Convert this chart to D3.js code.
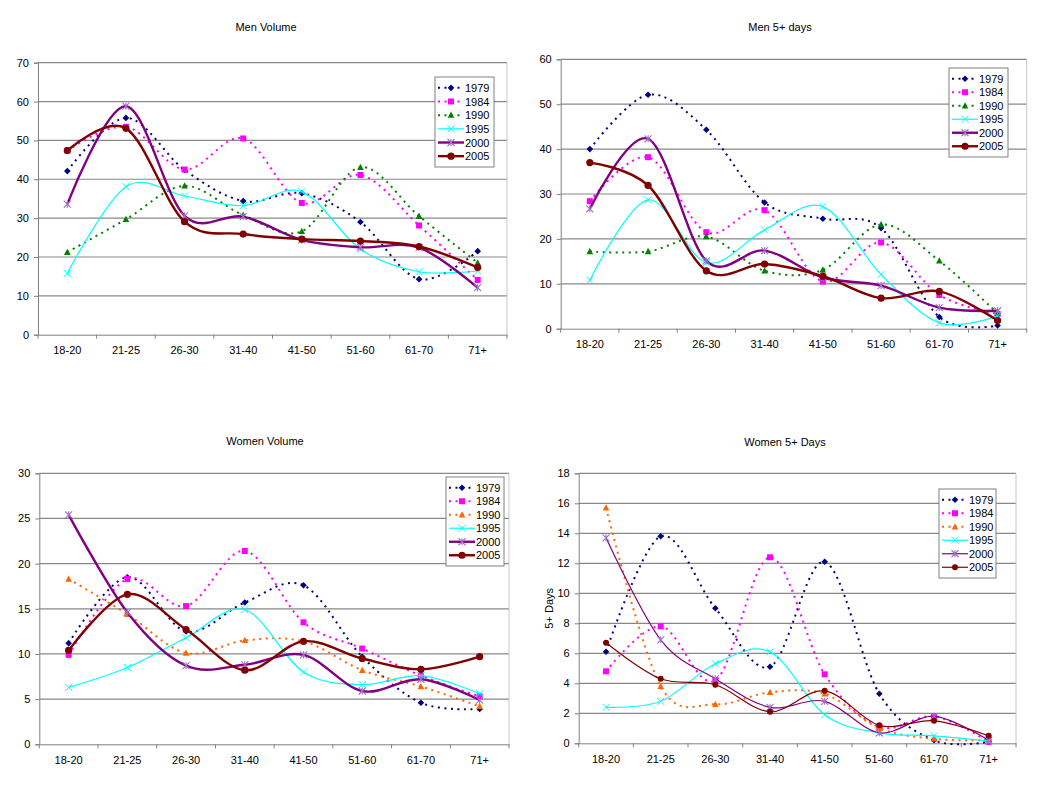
<!DOCTYPE html>
<html>
<head>
<meta charset="utf-8">
<script src="https://cdn.jsdelivr.net/npm/d3@7"></script>
<style>
  html, body { margin: 0; padding: 0; background: #fff; }
  svg { display: block; font-family: "Liberation Sans", Arial, sans-serif; }
</style>
</head>
<body>
<svg id="chart" width="1050" height="794"></svg>
<script>
// ---------- data ----------
const categories = ["18-20", "21-25", "26-30", "31-40", "41-50", "51-60", "61-70", "71+"];
const years = ["1979", "1984", "1990", "1995", "2000", "2005"];

const menVolume1979 = [42.1, 55.8, 42.4, 34.4, 36.4, 29.0, 14.3, 21.5];
const menVolume1984 = [47.4, 53.5, 42.5, 50.5, 33.9, 41.1, 28.1, 14.1];
const menVolume1990 = [21.2, 29.7, 38.3, 30.8, 26.6, 43.1, 30.5, 18.5];
const menVolume1995 = [15.8, 38.1, 35.7, 33.2, 36.8, 22.0, 16.2, 16.4];
const menVolume2000 = [33.6, 58.8, 30.6, 30.4, 24.4, 22.5, 22.4, 12.1];
const menVolume2005 = [47.4, 53.1, 29.1, 25.9, 24.6, 24.1, 22.7, 17.3];

const men5Days1979 = [40.0, 52.1, 44.3, 28.1, 24.5, 22.4, 2.6, 0.7];
const men5Days1984 = [28.4, 38.2, 21.5, 26.4, 10.5, 19.2, 7.5, 3.3];
const men5Days1990 = [17.2, 17.2, 20.5, 12.9, 13.1, 23.2, 15.1, 3.4];
const men5Days1995 = [10.8, 28.7, 14.7, 22.0, 27.2, 12.1, 1.3, 2.8];
const men5Days2000 = [26.7, 42.3, 15.1, 17.4, 11.4, 9.6, 4.7, 4.0];
const men5Days2005 = [37.0, 31.9, 12.9, 14.4, 11.7, 6.8, 8.3, 1.8];

const womenVolume1979 = [11.2, 18.5, 12.5, 15.7, 17.6, 9.7, 4.6, 3.9];
const womenVolume1984 = [9.9, 18.3, 15.3, 21.4, 13.5, 10.6, 7.6, 5.3];
const womenVolume1990 = [18.3, 14.4, 10.1, 11.5, 11.4, 8.2, 6.4, 4.2];
const womenVolume1995 = [6.3, 8.5, 11.8, 14.9, 8.0, 6.6, 7.6, 5.6];
const womenVolume2000 = [25.4, 14.6, 8.7, 8.8, 9.9, 5.9, 7.2, 4.9];
const womenVolume2005 = [10.4, 16.6, 12.7, 8.2, 11.4, 9.5, 8.3, 9.7];

const women5Days1979 = [6.1, 13.8, 9.0, 5.1, 12.1, 3.3, 0.2, 0.1];
const women5Days1984 = [4.8, 7.8, 4.2, 12.4, 4.6, 1.1, 1.8, 0.1];
const women5Days1990 = [15.7, 3.8, 2.6, 3.4, 3.3, 1.0, 0.3, 0.2];
const women5Days1995 = [2.4, 2.8, 5.3, 6.1, 1.9, 0.7, 0.5, 0.15];
const women5Days2000 = [13.7, 6.9, 4.3, 2.4, 2.8, 0.7, 1.8, 0.2];
const women5Days2005 = [6.7, 4.3, 3.9, 2.1, 3.5, 1.2, 1.5, 0.5];

const menVolumeTicks = [0, 10, 20, 30, 40, 50, 60, 70];
const men5DaysTicks = [0, 10, 20, 30, 40, 50, 60];
const womenVolumeTicks = [0, 5, 10, 15, 20, 25, 30];
const women5DaysTicks = [0, 2, 4, 6, 8, 10, 12, 14, 16, 18];

// ---------- drawing ----------
const svg = d3.select("#chart");
const GRID = "#888888";
const AXIS = "#808080";

function styleFor(year, thinSolid, orange1990) {
  switch (year) {
    case "1979": return {color: "#000080", width: 2, dash: "2,4.5", marker: "diamond", size: 3.3};
    case "1984": return {color: "#FF00FF", width: 2, dash: "2,4.5", marker: "square", size: 6};
    case "1990": return {color: orange1990 ? "#FF6600" : "#008000", width: 2, dash: "2,4.5", marker: "triangle", size: 6};
    case "1995": return {color: "#00FFFF", width: 1.2, dash: null, marker: "x", size: 3.5};
    case "2000": return {color: "#800080", width: thinSolid ? 1.2 : 2.4, dash: null, marker: "star", size: 3.5};
    case "2005": return {color: "#800000", width: thinSolid ? 1.2 : 2.4, dash: null, marker: "circle", size: thinSolid ? 3 : 3.6};
  }
}

function drawMarker(g, st, x, y) {
  const s = st.size;
  if (st.marker === "diamond") {
    g.append("path").attr("d", `M${x},${y - s} L${x + s},${y} L${x},${y + s} L${x - s},${y} Z`).attr("fill", st.color);
  } else if (st.marker === "square") {
    g.append("rect").attr("x", x - s / 2).attr("y", y - s / 2).attr("width", s).attr("height", s).attr("fill", st.color);
  } else if (st.marker === "triangle") {
    g.append("path").attr("d", `M${x},${y - s * 0.6} L${x + s * 0.55},${y + s * 0.45} L${x - s * 0.55},${y + s * 0.45} Z`).attr("fill", st.color);
  } else if (st.marker === "x") {
    g.append("path").attr("d", `M${x - s},${y - s} L${x + s},${y + s} M${x - s},${y + s} L${x + s},${y - s}`)
      .attr("stroke", st.color).attr("stroke-width", 1).attr("fill", "none");
  } else if (st.marker === "star") {
    g.append("path").attr("d", `M${x - s},${y - s} L${x + s},${y + s} M${x - s},${y + s} L${x + s},${y - s} M${x},${y - s} L${x},${y + s}`)
      .attr("stroke", "#A070C8").attr("stroke-width", 1.1).attr("fill", "none");
  } else if (st.marker === "circle") {
    g.append("circle").attr("cx", x).attr("cy", y).attr("r", s).attr("fill", st.color);
  }
}

function drawChart(cfg) {
  const g = svg.append("g");
  const x = d3.scaleBand().domain(categories).range([cfg.left, cfg.right]);
  const y = d3.scaleLinear().domain([0, d3.max(cfg.ticks)]).range([cfg.bottom, cfg.top]);

  // title
  g.append("text").attr("x", cfg.titleX).attr("y", cfg.titleY).attr("text-anchor", "middle")
    .attr("font-size", 11).attr("fill", "#000").text(cfg.title);

  // gridlines
  g.selectAll(".grid").data(cfg.ticks.filter(t => t > 0)).enter().append("line")
    .attr("x1", cfg.left).attr("x2", cfg.right)
    .attr("y1", d => y(d)).attr("y2", d => y(d))
    .attr("stroke", GRID).attr("stroke-width", 1.2);
  // right border
  g.append("line").attr("x1", cfg.right).attr("x2", cfg.right).attr("y1", cfg.top).attr("y2", cfg.bottom)
    .attr("stroke", "#c8c8c8").attr("stroke-width", 1);

  // y axis
  const yAxis = d3.axisLeft(y).tickValues(cfg.ticks).tickSize(4).tickPadding(5).tickFormat(d3.format("d"));
  const ya = g.append("g").attr("transform", `translate(${cfg.left},0)`).call(yAxis);
  ya.select(".domain").attr("stroke", AXIS);
  ya.selectAll(".tick line").attr("stroke", AXIS);
  ya.selectAll("text").attr("font-size", 11).attr("fill", "#000").attr("font-family", "Liberation Sans, Arial, sans-serif");

  // x axis
  const xa = g.append("g").attr("transform", `translate(0,${cfg.bottom})`)
    .call(d3.axisBottom(x).tickSize(0).tickPadding(12));
  xa.select(".domain").attr("stroke", AXIS);
  xa.selectAll("text").attr("font-size", 11).attr("fill", "#000").attr("font-family", "Liberation Sans, Arial, sans-serif");
  // band boundary ticks
  const bounds = categories.map(c => x(c)).concat([cfg.right]);
  g.selectAll(".xb").data(bounds).enter().append("line")
    .attr("x1", d => d).attr("x2", d => d).attr("y1", cfg.bottom).attr("y2", cfg.bottom + 4)
    .attr("stroke", AXIS);

  if (cfg.yTitle) {
    g.append("text").attr("transform", `translate(${cfg.yTitleX},${(cfg.top + cfg.bottom) / 2}) rotate(-90)`)
      .attr("text-anchor", "middle").attr("font-size", 11).text(cfg.yTitle);
  }

  // series
  const line = d3.line().x((d, i) => x(categories[i]) + x.bandwidth() / 2).y(d => y(d))
    .curve(d3.curveCardinal.tension(0));
  cfg.series.forEach((vals, si) => {
    const st = styleFor(years[si], cfg.thinSolid, cfg.orange1990);
    const sg = g.append("g");
    sg.append("path").datum(vals).attr("d", line).attr("fill", "none")
      .attr("stroke", st.color).attr("stroke-width", st.width)
      .attr("stroke-dasharray", st.dash);
    vals.forEach((v, i) => drawMarker(sg, st, x(categories[i]) + x.bandwidth() / 2, y(v)));
  });

  // legend
  const L = cfg.legend;
  const lg = g.append("g");
  lg.append("rect").attr("x", L.x).attr("y", L.y).attr("width", L.w).attr("height", L.h)
    .attr("fill", "#fff").attr("stroke", "#808080").attr("stroke-width", 1);
  const rowH = (L.h - 8) / years.length;
  years.forEach((yr, i) => {
    const st = styleFor(yr, cfg.thinSolid, cfg.orange1990);
    const cy = L.y + 4 + rowH * (i + 0.5);
    lg.append("line").attr("x1", L.x + 3).attr("x2", L.x + 29).attr("y1", cy).attr("y2", cy)
      .attr("stroke", st.color).attr("stroke-width", st.width).attr("stroke-dasharray", st.dash);
    drawMarker(lg, st, L.x + 16, cy);
    lg.append("text").attr("x", L.x + 30).attr("y", cy + 4).attr("font-size", 11).text(yr);
  });
}

drawChart({
  title: "Men Volume", titleX: 266, titleY: 31,
  left: 38, right: 507, top: 62.7, bottom: 334.7, ticks: menVolumeTicks,
  series: [menVolume1979, menVolume1984, menVolume1990, menVolume1995, menVolume2000, menVolume2005],
  legend: {x: 435, y: 77, w: 59, h: 90}
});
drawChart({
  title: "Men 5+ days", titleX: 780, titleY: 31,
  left: 560.7, right: 1026.7, top: 59.3, bottom: 328.7, ticks: men5DaysTicks,
  series: [men5Days1979, men5Days1984, men5Days1990, men5Days1995, men5Days2000, men5Days2005],
  legend: {x: 949, y: 68, w: 59, h: 89}
});
drawChart({
  title: "Women Volume", titleX: 265, titleY: 445,
  left: 39.3, right: 509, top: 473.3, bottom: 744.3, ticks: womenVolumeTicks, orange1990: true,
  series: [womenVolume1979, womenVolume1984, womenVolume1990, womenVolume1995, womenVolume2000, womenVolume2005],
  legend: {x: 446, y: 477, w: 58, h: 89}
});
drawChart({
  title: "Women 5+ Days", titleX: 785, titleY: 446,
  left: 578.7, right: 1016, top: 473.3, bottom: 743.3, ticks: women5DaysTicks, orange1990: true, thinSolid: true,
  yTitle: "5+ Days", yTitleX: 553,
  series: [women5Days1979, women5Days1984, women5Days1990, women5Days1995, women5Days2000, women5Days2005],
  legend: {x: 939, y: 489, w: 57, h: 89}
});
</script>
</body>
</html>
